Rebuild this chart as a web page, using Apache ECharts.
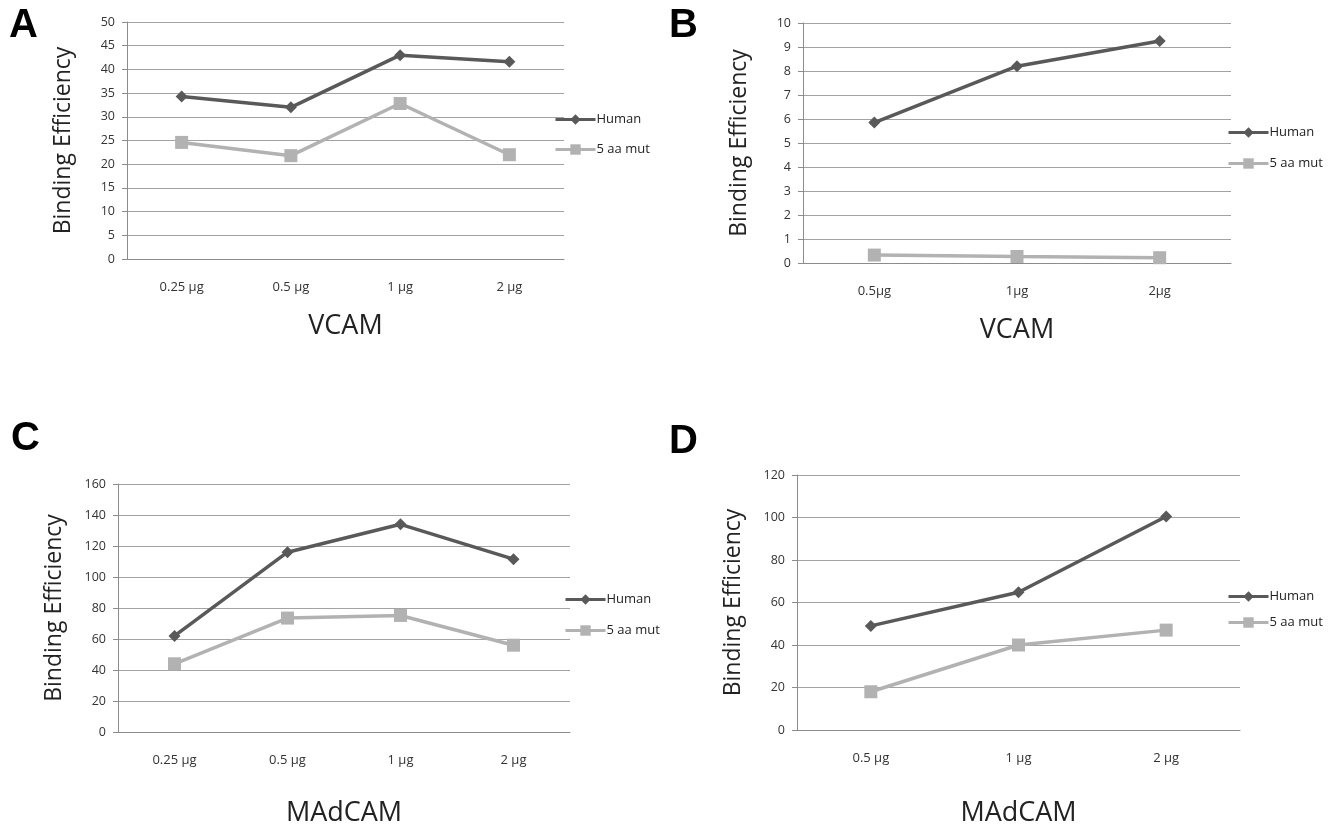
<!DOCTYPE html>
<html lang="en">
<head>
    <meta charset="UTF-8" />
    <title>Binding Efficiency</title>
    <script src="https://cdn.jsdelivr.net/npm/echarts@6/dist/echarts.min.js"></script>
</head>
<body style="margin:0;background:#fff">
    <div id="main" style="width: 1334px; height: 825px"></div>
    <script>
        // 数据
        var catsA = ['0.25 µg', '0.5 µg', '1 µg', '2 µg']
        var humanA = [34.3, 32.0, 43.0, 41.6]
        var mutA = [24.6, 21.8, 32.8, 22.0]

        var catsB = ['0.5µg', '1µg', '2µg']
        var humanB = [5.85, 8.2, 9.25]
        var mutB = [0.33, 0.27, 0.22]

        var catsC = ['0.25 µg', '0.5 µg', '1 µg', '2 µg']
        var humanC = [62, 116, 134, 111.5]
        var mutC = [44, 73.5, 75.2, 56]

        var catsD = ['0.5 µg', '1 µg', '2 µg']
        var humanD = [49, 64.8, 100.5]
        var mutD = [18, 40, 47]

        var dark = '#595959'
        var light = '#b2b2b2'
        var font = 'Open Sans'

        // 不让网格为了容纳轴名而自动收缩
        var grids = [
            { left: 127, top: 22, width: 437, height: 237, outerBoundsMode: 'none' },
            { left: 803, top: 23, width: 428, height: 240, outerBoundsMode: 'none' },
            { left: 118, top: 484, width: 452, height: 248, outerBoundsMode: 'none' },
            { left: 797, top: 475, width: 443, height: 255, outerBoundsMode: 'none' }
        ]
        var panels = [
            { cats: catsA, human: humanA, mut: mutA, max: 50, step: 5, xname: 'VCAM', xgap: 54, legendTop: 108 },
            { cats: catsB, human: humanB, mut: mutB, max: 10, step: 1, xname: 'VCAM', xgap: 54, legendTop: 121 },
            { cats: catsC, human: humanC, mut: mutC, max: 160, step: 20, xname: 'MAdCAM', xgap: 68, legendTop: 588 },
            { cats: catsD, human: humanD, mut: mutD, max: 120, step: 20, xname: 'MAdCAM', xgap: 70, legendTop: 585 }
        ]
        var legendLeft = [549, 1222, 559, 1222]
        var legendGap = [17, 18, 18, 13]

        var xAxis = [], yAxis = [], series = [], legend = []
        panels.forEach(function (p, i) {
            xAxis.push({
                type: 'category', gridIndex: i, data: p.cats,
                name: p.xname, nameLocation: 'middle', nameGap: p.xgap,
                nameTextStyle: { fontSize: 27, color: '#222', fontFamily: font },
                axisLine: { lineStyle: { color: '#8c8c8c' } },
                axisTick: { length: 5, lineStyle: { color: '#8c8c8c' } },
                axisLabel: { margin: 22, fontSize: 13, color: '#333', fontFamily: font }
            })
            yAxis.push({
                type: 'value', gridIndex: i, min: 0, max: p.max, interval: p.step,
                name: 'Binding Efficiency', nameLocation: 'middle', nameGap: 52,
                nameTextStyle: { fontSize: 23, color: '#222', fontFamily: font },
                axisLine: { show: true, lineStyle: { color: '#8c8c8c' } },
                axisTick: { show: true, length: 5, lineStyle: { color: '#8c8c8c' } },
                axisLabel: { margin: 12, fontSize: 12.5, color: '#333', fontFamily: font },
                splitLine: { lineStyle: { color: '#a3a3a3', width: 1.2 } }
            })
            series.push({
                name: 'Human', type: 'line', xAxisIndex: i, yAxisIndex: i, data: p.human,
                symbol: 'diamond', symbolSize: 12, color: dark,
                lineStyle: { width: 3.5, color: dark }, itemStyle: { color: dark }
            })
            series.push({
                name: '5 aa mut', type: 'line', xAxisIndex: i, yAxisIndex: i, data: p.mut,
                symbol: 'rect', symbolSize: 13, color: light,
                lineStyle: { width: 3.5, color: light }, itemStyle: { color: light }
            })
            legend.push({
                left: legendLeft[i], top: p.legendTop, orient: 'vertical',
                itemWidth: 40, itemHeight: 13, itemGap: legendGap[i],
                lineStyle: { width: 3 },
                textStyle: { fontSize: 13, color: '#222', fontFamily: font, padding: [0, 0, 0, -4] },
                data: ['Human', '5 aa mut']
            })
        })

        var letterStyle = { fontSize: 40, fontWeight: 'bold', color: '#000', fontFamily: 'Liberation Sans' }
        var mCharts = echarts.init(document.getElementById('main'))
        mCharts.setOption({
            animation: false,
            title: [
                { text: 'A', left: 9, top: 6, padding: 0, textStyle: letterStyle },
                { text: 'B', left: 669, top: 6, padding: 0, textStyle: letterStyle },
                { text: 'C', left: 11, top: 419, padding: 0, textStyle: letterStyle },
                { text: 'D', left: 669, top: 422, padding: 0, textStyle: letterStyle }
            ],
            grid: grids,
            xAxis: xAxis,
            yAxis: yAxis,
            legend: legend,
            series: series
        })
    </script>
</body>
</html>
